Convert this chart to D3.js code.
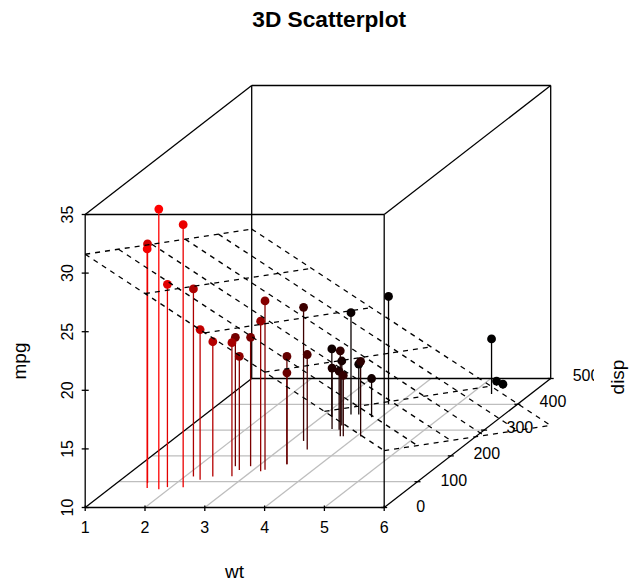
<!DOCTYPE html>
<html><head><meta charset="utf-8">
<script src="https://cdn.jsdelivr.net/npm/d3@7"></script>
<style>html,body{margin:0;padding:0;background:#fff}svg{display:block}text{font-family:"Liberation Sans",Arial,sans-serif;fill:#000}</style>
</head><body><svg id="c" width="632" height="588"></svg>
<script>
const wt=[2.62,2.875,2.32,3.215,3.44,3.46,3.57,3.19,3.15,3.44,3.44,4.07,3.73,3.78,5.25,5.424,5.345,2.2,1.615,1.835,2.465,3.52,3.435,3.84,3.845,1.935,2.14,1.513,3.17,2.77,3.57,2.78];
const disp=[160,160,108,258,360,225,360,146.7,140.8,167.6,167.6,275.8,275.8,275.8,472,460,440,78.7,75.7,71.1,120.1,318,304,350,400,79,120.3,95.1,351,145,301,121];
const mpg=[21,21,22.8,21.4,18.7,18.1,14.3,24.4,22.8,19.2,17.8,16.4,17.3,15.2,10.4,10.4,14.7,32.4,30.4,33.9,21.5,15.5,15.2,13.3,19.2,27.3,26,30.4,15.8,19.7,15,21.4];
const wtTicks=[1,2,3,4,5,6], dispTicks=[0,100,200,300,400,500], mpgTicks=[10,15,20,25,30,35];
const planeCoef=[34.96,-3.351,-0.01772];

const sx=d3.scaleLinear().domain([1,6]).range([85.2,384.2]);
const dx=d3.scaleLinear().domain([0,500]).range([0,166.5]);
const dy=d3.scaleLinear().domain([0,500]).range([0,-129]);
const sz=d3.scaleLinear().domain([10,35]).range([507.5,214.5]);
const dispLabelX=d3.scaleLinear().domain([0,500]).range([420.7,586]);
const dispLabelY=d3.scaleLinear().domain([0,500]).range([512,380.7]);
const P=(w,d,m)=>[sx(w)+dx(d),sz(m)+dy(d)];
const planeZ=(w,d)=>planeCoef[0]+planeCoef[1]*w+planeCoef[2]*d;
const LW=1.3;

const svg=d3.select("#c");
svg.append("defs").append("clipPath").attr("id","fig").append("rect").attr("x",0).attr("y",0).attr("width",594).attr("height",588);
const line=(g,a,b,col,extra)=>{const l=g.append("line").attr("x1",a[0]).attr("y1",a[1]).attr("x2",b[0]).attr("y2",b[1]).attr("stroke",col).attr("stroke-width",LW);if(extra)l.attr("stroke-dasharray",extra);return l;};
const W0=wtTicks[0],W1=wtTicks[5],D0=dispTicks[0],D1=dispTicks[5],Z0=mpgTicks[0],Z1=mpgTicks[5];

const grid=svg.append("g");
wtTicks.slice(1,-1).forEach(w=>line(grid,P(w,D0,Z0),P(w,D1,Z0),"#bebebe"));
dispTicks.slice(1,-1).forEach(d=>line(grid,P(W0,d,Z0),P(W1,d,Z0),"#bebebe"));

const box=svg.append("g");
[[[W0,D0,Z0],[W1,D0,Z0]],[[W0,D0,Z0],[W0,D0,Z1]],[[W1,D0,Z0],[W1,D0,Z1]],[[W0,D0,Z1],[W1,D0,Z1]],
 [[W0,D1,Z0],[W1,D1,Z0]],[[W0,D1,Z0],[W0,D1,Z1]],[[W1,D1,Z0],[W1,D1,Z1]],[[W0,D1,Z1],[W1,D1,Z1]],
 [[W0,D0,Z0],[W0,D1,Z0]],[[W1,D0,Z0],[W1,D1,Z0]],[[W0,D0,Z1],[W0,D1,Z1]],[[W1,D0,Z1],[W1,D1,Z1]]]
 .forEach(([a,b])=>line(box,P(...a),P(...b),"#000"));

const ticks=svg.append("g");
wtTicks.forEach(w=>{const p=P(w,D0,Z0);line(ticks,[p[0],p[1]-2],[p[0],p[1]+3.5],"#000");});
mpgTicks.forEach(m=>{const p=P(W0,D0,m);line(ticks,[p[0]-3.5,p[1]],[p[0]+3.5,p[1]],"#000");});
dispTicks.forEach(d=>{const p=P(W1,d,Z0);line(ticks,[p[0]-3,p[1]],[p[0]+3,p[1]],"#000");});

const n=wt.length;
const rows=d3.range(n).map(i=>({w:wt[i],d:disp[i],m:mpg[i]})).sort((a,b)=>d3.descending(a.d,b.d));
const dMin=d3.min(disp),dRange=d3.max(disp)-dMin;
rows.forEach((r,i)=>{const red=(i/(n-1))*(dRange-(r.d-dMin))/dRange;r.col=d3.rgb(Math.round(255*red),0,0).formatHex();});
const segs=svg.append("g");
rows.forEach(r=>line(segs,P(r.w,r.d,r.m),P(r.w,r.d,Z0),r.col));
svg.append("g").selectAll("circle").data(rows).join("circle")
  .attr("cx",r=>P(r.w,r.d,r.m)[0]).attr("cy",r=>P(r.w,r.d,r.m)[1]).attr("r",4.4).attr("fill",r=>r.col);

const pl=svg.append("g");
wtTicks.forEach(w=>line(pl,P(w,D0,planeZ(w,D0)),P(w,D1,planeZ(w,D1)),"#000","5 5"));
dispTicks.forEach(d=>line(pl,P(W0,d,planeZ(W0,d)),P(W1,d,planeZ(W1,d)),"#000","5 5"));

const FS=16, LS=19;
const txt=svg.append("g").attr("clip-path","url(#fig)").attr("font-size",FS);
wtTicks.forEach(w=>txt.append("text").attr("x",P(w,D0,Z0)[0]).attr("y",532.5).attr("text-anchor","middle").text(w));
mpgTicks.forEach(m=>{const p=P(W0,D0,m);txt.append("text").attr("transform",`translate(${p[0]-12.5},${p[1]}) rotate(-90)`).attr("text-anchor","middle").text(m);});
dispTicks.forEach(d=>txt.append("text").attr("x",dispLabelX(d)).attr("y",dispLabelY(d)).attr("text-anchor","middle").text(d));
svg.append("text").attr("x",234.5).attr("y",578).attr("font-size",LS).attr("text-anchor","middle").text("wt");
svg.append("text").attr("transform","translate(25.5,361) rotate(-90)").attr("font-size",LS).attr("text-anchor","middle").text("mpg");
svg.append("text").attr("transform","translate(623.5,377) rotate(-90)").attr("font-size",LS).attr("text-anchor","middle").text("disp");
svg.append("text").attr("x",329.2).attr("y",27).attr("font-size",22.7).attr("font-weight","bold").attr("text-anchor","middle").text("3D Scatterplot");
</script></body></html>
